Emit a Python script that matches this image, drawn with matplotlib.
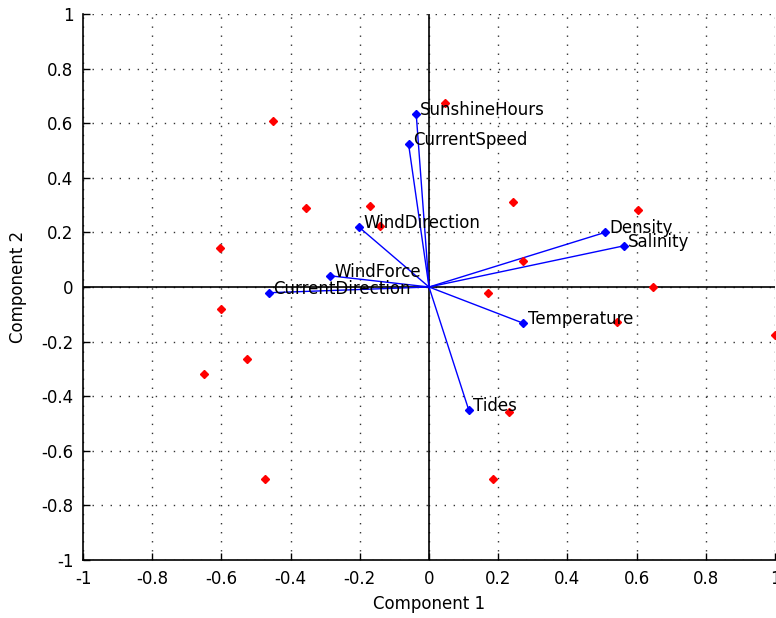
import matplotlib
matplotlib.use("Agg")
import matplotlib.pyplot as plt
import numpy as np

# variable loadings (component 1, component 2)
var_names = ["SunshineHours", "CurrentSpeed", "WindDirection", "WindForce",
             "CurrentDirection", "Density", "Salinity", "Temperature", "Tides"]
load_x = [-0.037, -0.059, -0.202, -0.286, -0.462, 0.509, 0.564, 0.273, 0.115]
load_y = [0.634, 0.523, 0.219, 0.041, -0.021, 0.200, 0.151, -0.133, -0.451]

# observation scores
score_x = [0.046, -0.452, -0.355, -0.170, -0.143, 0.244, -0.604, 0.271, 0.171,
           -0.601, 0.605, 0.646, 0.542, 0.999, -0.525, -0.651, 0.231, 0.186, -0.475]
score_y = [0.673, 0.608, 0.288, 0.298, 0.223, 0.310, 0.142, 0.095, -0.021,
           -0.079, 0.281, 0.000, -0.128, -0.176, -0.264, -0.320, -0.457, -0.702, -0.703]

ticks = np.round(np.arange(-1, 1.01, 0.2), 1)
tick_labels = ["-1", "-0.8", "-0.6", "-0.4", "-0.2", "0", "0.2", "0.4", "0.6", "0.8", "1"]

plt.rcParams['font.family'] = ['DejaVu Sans']

fig = plt.figure(figsize=(7.76, 6.18), dpi=100)
ax = fig.add_axes([83/776, 58/618, 692/776, 546/618])

ax.set_xlim(-1, 1)
ax.set_ylim(-1, 1)
ax.set_xticks(ticks)
ax.set_yticks(ticks)
ax.set_xticklabels(tick_labels)
ax.set_yticklabels(tick_labels)
ax.tick_params(direction='in', length=5, width=1, labelsize=12, pad=7, colors='black')
ax.grid(True, linestyle=(0, (1, 5.5)), color='#333333', linewidth=1)
ax.set_axisbelow(True)
for s in ['top', 'right']:
    ax.spines[s].set_visible(False)
for s in ['left', 'bottom']:
    ax.spines[s].set_linewidth(1.2)

ax.axhline(0, color='black', linewidth=1.2, zorder=2)
ax.axvline(0, color='black', linewidth=1.2, zorder=2)

for x, y, name in zip(load_x, load_y, var_names):
    ax.plot([0, x], [0, y], color='blue', linewidth=1, zorder=3)
    ax.annotate(name, (x, y), xytext=(3, 3), textcoords='offset points',
                fontsize=12, va='center', ha='left', zorder=5)
ax.plot(load_x, load_y, 'D', color='blue', markersize=4, linestyle='none', zorder=4)

ax.plot(score_x, score_y, 'D', color='red', markersize=4.5, linestyle='none',
        zorder=4, clip_on=False)

ax.set_xlabel("Component 1", fontsize=12, labelpad=5)
ax.set_ylabel("Component 2", fontsize=12, labelpad=10)

fig.savefig("out.png", dpi=100)
